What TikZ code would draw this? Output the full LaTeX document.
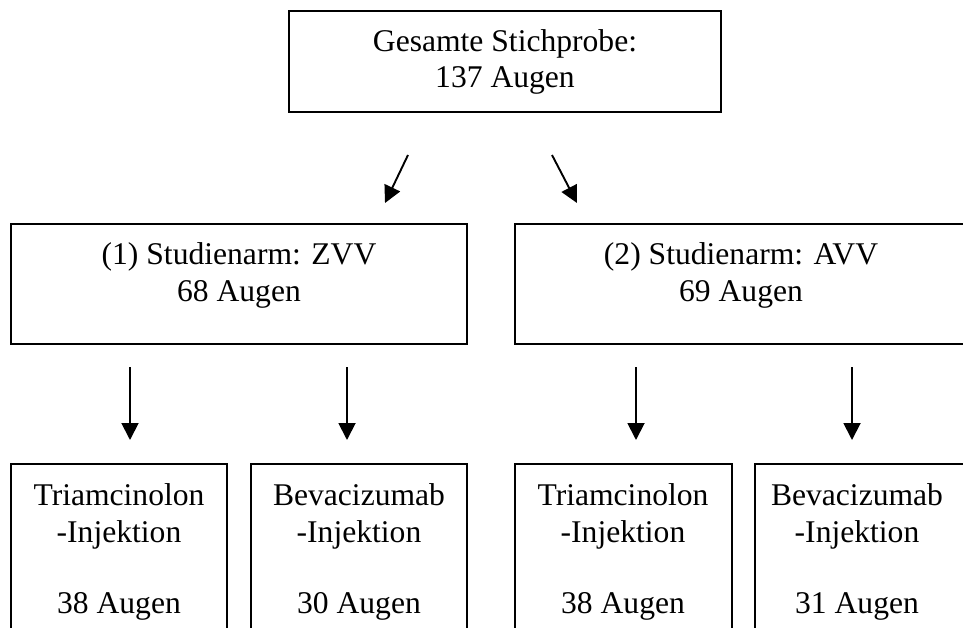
\documentclass[tikz,border=0pt]{standalone}
\usepackage{fontspec}
\setmainfont{Liberation Serif}
\usetikzlibrary{arrows.meta}
\begin{document}
\begin{tikzpicture}[x=1pt,y=-1pt,
  txt/.style={anchor=base,inner sep=0pt,font=\fontsize{31.6}{36}\selectfont},
  topbox/.style={draw,line width=2.2pt,inner sep=0pt},
  midbox/.style={draw,line width=2pt,inner sep=0pt},
  botbox/.style={draw,line width=1.5pt,inner sep=0pt},
  arr/.style={line width=1.9pt,-{Triangle[length=17pt,width=17pt]}}]
\useasboundingbox (0,0) rectangle (963,628);
\clip (0,0) rectangle (963,628);
% boxes
\node[topbox,minimum width=432pt,minimum height=101pt] (top) at (505,61.5) {};
\node[midbox,minimum width=456pt,minimum height=120pt] (zvv) at (239,284) {};
\node[midbox,minimum width=456pt,minimum height=120pt] (avv) at (743,284) {};
\node[botbox,minimum width=216pt,minimum height=190pt] (b1) at (119,559) {};
\node[botbox,minimum width=216pt,minimum height=190pt] (b2) at (359,559) {};
\node[botbox,minimum width=217pt,minimum height=190pt] (b3) at (623.5,559) {};
\node[botbox,minimum width=217pt,minimum height=190pt] (b4) at (863.5,559) {};
% texts
\node[txt] (t1) at (505,52) {Gesamte Stichprobe:};
\node[txt] (t2) at (505,88) {137 Augen};
\node[txt] (z1) at (239,265) {(1) Studienarm: ZVV};
\node[txt] (z2) at (239,301) {68 Augen};
\node[txt] (a1) at (741,265) {(2) Studienarm: AVV};
\node[txt] (a2) at (741,301) {69 Augen};
\node[txt] (b1a) at (119,505) {Triamcinolon};
\node[txt] (b1b) at (119,542) {-Injektion};
\node[txt] (b1c) at (119,613) {38 Augen};
\node[txt] (b2a) at (359,505) {Bevacizumab};
\node[txt] (b2b) at (359,542) {-Injektion};
\node[txt] (b2c) at (359,613) {30 Augen};
\node[txt] (b3a) at (623,505) {Triamcinolon};
\node[txt] (b3b) at (623,542) {-Injektion};
\node[txt] (b3c) at (623,613) {38 Augen};
\node[txt] (b4a) at (857,505) {Bevacizumab};
\node[txt] (b4b) at (857,542) {-Injektion};
\node[txt] (b4c) at (857,613) {31 Augen};
% arrow end points
\coordinate (s1) at (408,155); \coordinate (e1) at (385,203);
\coordinate (s2) at (552,155); \coordinate (e2) at (577,203);
\coordinate (s3) at (130,367); \coordinate (e3) at (130,440);
\coordinate (s4) at (347,367); \coordinate (e4) at (347,440);
\coordinate (s5) at (636,367); \coordinate (e5) at (636,440);
\coordinate (s6) at (852,367); \coordinate (e6) at (852,440);
\draw[arr] (s1) -- (e1);
\draw[arr] (s2) -- (e2);
\draw[arr] (s3) -- (e3);
\draw[arr] (s4) -- (e4);
\draw[arr] (s5) -- (e5);
\draw[arr] (s6) -- (e6);
\end{tikzpicture}
\end{document}
